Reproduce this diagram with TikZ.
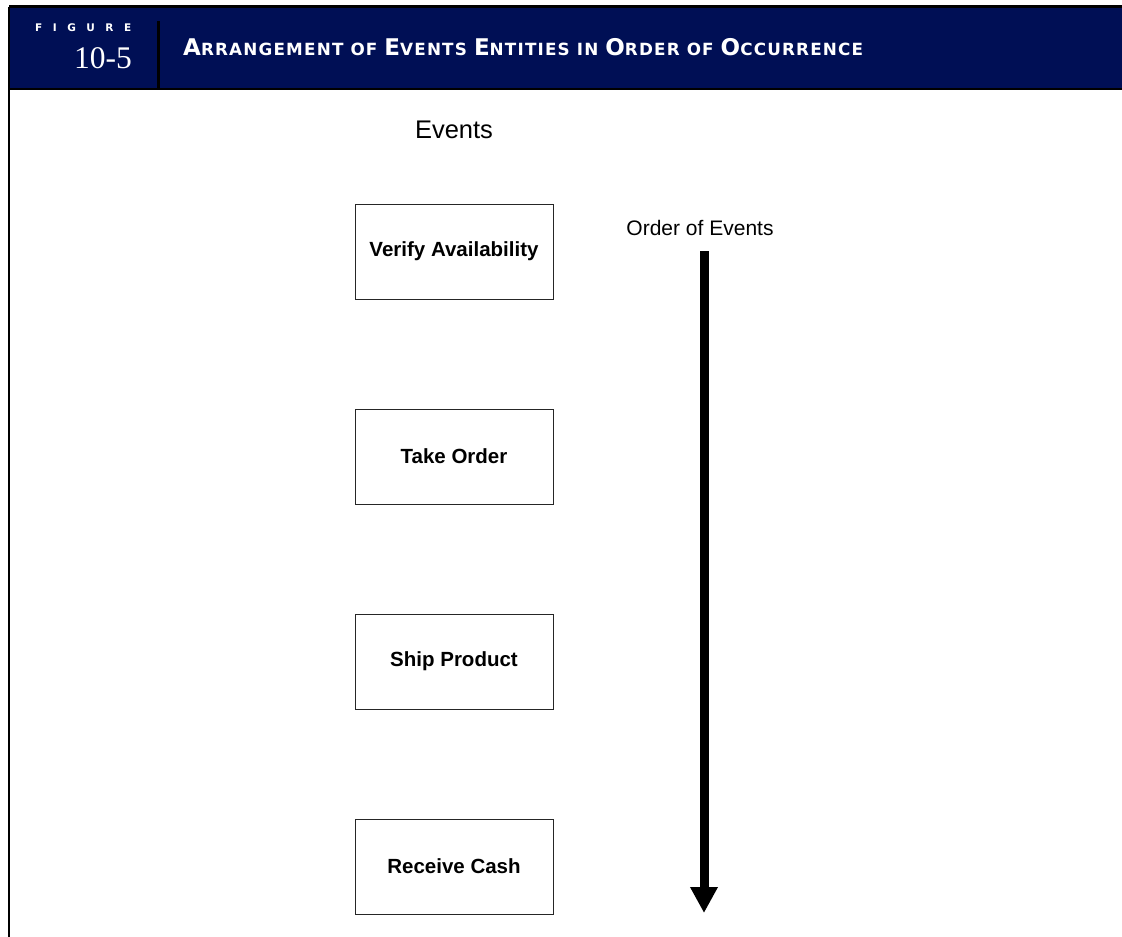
\documentclass[tikz,border=0pt]{standalone}
\usepackage{fontspec}
\setmainfont{Liberation Sans}
\newfontfamily\numfont{Liberation Serif}
\newfontfamily\titlefont[LetterSpace=7]{DejaVu Sans}
\newfontfamily\figfont[LetterSpace=100]{DejaVu Sans}
\usetikzlibrary{arrows.meta}
\definecolor{navy}{RGB}{0,15,85}
\newcommand\BigC[1]{{\fontsize{23}{23}\selectfont #1}}
\newcommand\SmC[1]{{\fontsize{16.8}{16.8}\selectfont #1}}
\tikzset{
  eventbox/.style={draw=black!85, line width=1pt, minimum width=198pt, minimum height=95pt,
    inner sep=0pt, font=\fontsize{20.5}{20.5}\selectfont\bfseries},
  frameline/.style={line width=2.2pt, black},
}
\begin{document}
\begin{tikzpicture}[x=1pt,y=-1pt]
\useasboundingbox (0,0) rectangle (1122,937);
% header band
\fill[navy] (9,7) rectangle (1122,89);
\draw[frameline] (9,6.5) -- (1122,6.5);
\draw[frameline] (9,89) -- (1122,89);
\draw[frameline] (9,6.5) -- (9,937);
\draw[line width=2.6pt] (158.5,21) -- (158.5,89);
\node[anchor=base west, inner sep=0pt, text=white, font=\figfont\bfseries\fontsize{10.5}{10.5}\selectfont] (figlabel) at (35,31.5) {FIGURE};
\node[anchor=base east, inner sep=0pt, text=white, font=\numfont\fontsize{31.5}{31.5}\selectfont] (fignum) at (132,68) {10-5};
\node[anchor=base west, inner sep=0pt, text=white, font=\titlefont\bfseries] (title) at (183,55)
  {\BigC{A}\SmC{RRANGEMENT OF }\BigC{E}\SmC{VENTS }\BigC{E}\SmC{NTITIES IN }\BigC{O}\SmC{RDER OF }\BigC{O}\SmC{CCURRENCE}};
% column heading
\node[font=\fontsize{25.5}{25.5}\selectfont, inner sep=0pt] (events) at (454,130) {Events};
% boxes
\node[eventbox] (verify) at (454,251.5) {Verify Availability};
\node[eventbox] (take) at (454,456.5) {Take Order};
\node[eventbox] (ship) at (454,661.5) {Ship Product};
\node[eventbox] (receive) at (454,866.5) {Receive Cash};
% order arrow
\node[font=\fontsize{21}{21}\selectfont, inner sep=0pt] (order) at (700,228) {Order of Events};
\coordinate (atop) at (704,251);
\coordinate (abot) at (704,913);
\draw[line width=9pt, -{Triangle[width=26pt,length=26pt]}] (atop) -- (abot);
\end{tikzpicture}
\end{document}
